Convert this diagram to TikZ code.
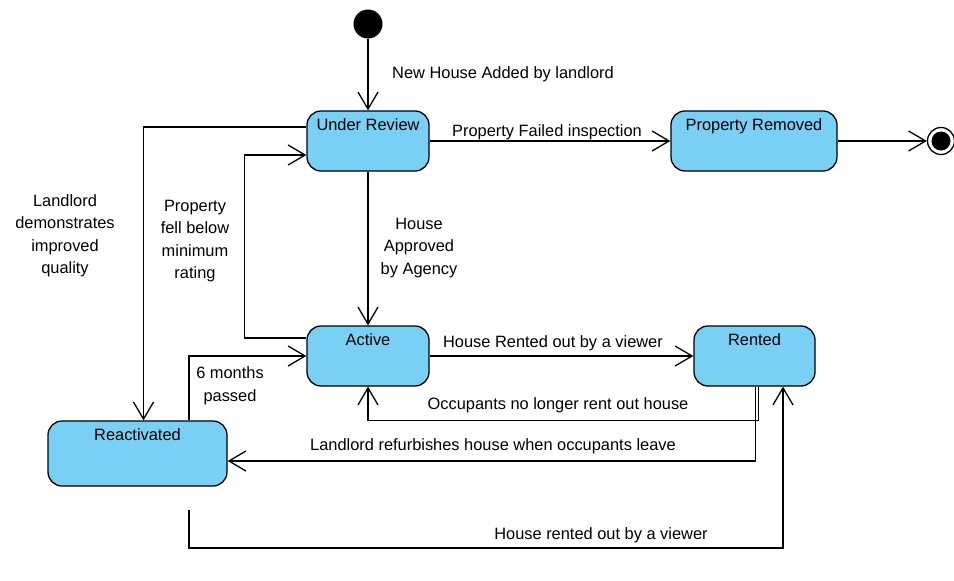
\documentclass[tikz,border=0pt]{standalone}
\usepackage{fontspec}
\setmainfont{Liberation Sans}
\usetikzlibrary{arrows.meta}
\definecolor{statefill}{RGB}{122,207,245}
\begin{document}
\begin{tikzpicture}[x=1pt,y=-1pt,
  font=\fontsize{16.4}{22.5}\selectfont,
  state/.style={draw, line width=1.3pt, fill=statefill, rounded corners=14pt,
    inner sep=0pt, text height=19.5pt, text depth=40.5pt},
  arr/.style={draw, line width=1.3pt, -{Straight Barb[length=17pt,width=20pt]}},
  lbl/.style={align=center, inner sep=0pt}]
\useasboundingbox (0,0) rectangle (954,581);

% states
\node[circle, fill=black, minimum size=29pt, inner sep=0pt] (init) at (368,24) {};
\node[state, minimum width=122pt] (ur) at (368,141) {Under Review};
\node[state, minimum width=166pt] (pr) at (754,141) {Property Removed};
\node[state, minimum width=122pt] (act) at (368,356) {Active};
\node[state, minimum width=121pt] (rent) at (754.5,356) {Rented};
\node[state, minimum width=179pt, text depth=45.5pt] (react) at (137.5,453.5) {Reactivated};
\node[circle, draw, line width=1.3pt, fill=white, minimum size=27pt, inner sep=0pt] (fin) at (941,141) {};
\node[circle, fill=black, minimum size=19pt, inner sep=0pt] (finin) at (fin) {};

\coordinate (s11) at (189,510);

% connectors
\draw[arr] (init) -- (ur.north);
\draw[arr] (ur.east) -- (pr.west);
\draw[arr] (pr.east) -- (fin.west);
\draw[arr] (ur.south) -- (act.north);
\draw[arr] ([yshift=14pt]ur.west) -| ([xshift=6pt]react.north);
\draw[arr] ([yshift=18pt]act.west) -- ++(-62,0) |- ([yshift=-14pt]ur.west);
\draw[arr] ([xshift=51.5pt]react.north) |- (act.west);
\draw[arr] (act.east) -- (rent.west);
\draw[arr] ([xshift=4pt]rent.south) -- ++(0,34) -| (act.south);
\draw[arr] ([xshift=1pt]rent.south) |- ([yshift=-7.5pt]react.east);
\draw[arr] (s11) -- ++(0,38) -| ([xshift=28.5pt]rent.south);

% labels
\node[lbl] (l1) at (503,74) {New House Added by landlord};
\node[lbl] (l2) at (547,132) {Property Failed inspection};
\node[lbl] (l3) at (419,248) {House\\Approved\\by Agency};
\node[lbl] (l4) at (65,236) {Landlord\\demonstrates\\improved\\quality};
\node[lbl] (l5) at (195,241) {Property\\fell below\\minimum\\rating};
\node[lbl] (l6) at (230,386) {6 months\\passed};
\node[lbl] (l7) at (553,343) {House Rented out by a viewer};
\node[lbl] (l8) at (558,405) {Occupants no longer rent out house};
\node[lbl] (l9) at (493,446) {Landlord refurbishes house when occupants leave};
\node[lbl] (l10) at (601,535) {House rented out by a viewer};
\end{tikzpicture}
\end{document}
